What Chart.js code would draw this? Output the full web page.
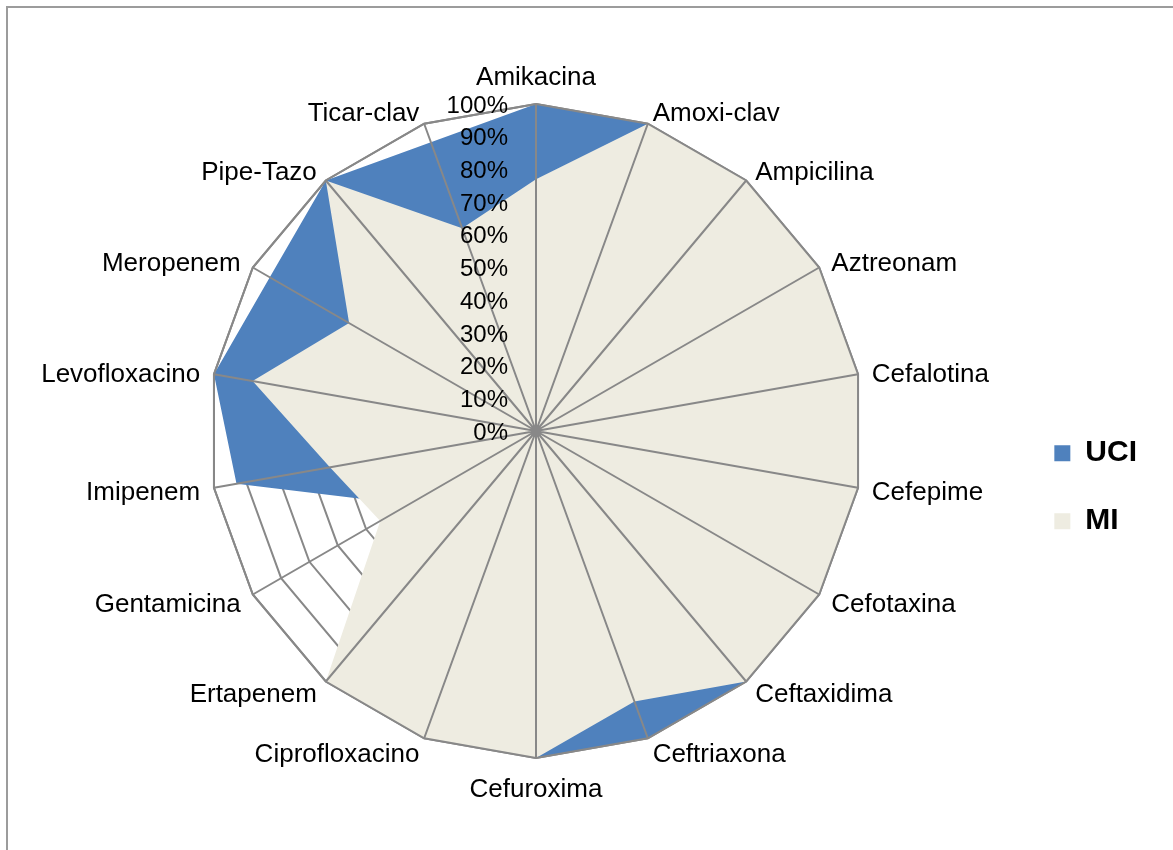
<!DOCTYPE html>
<html>
<head>
<meta charset="utf-8">
<script src="https://cdn.jsdelivr.net/npm/chart.js@4.4.0/dist/chart.umd.min.js"></script>
<style>
  html, body { margin: 0; padding: 0; background: #fff; overflow: hidden; }
  #frame { position: absolute; left: 6px; top: 6px; width: 1300px; height: 1000px; border: 2px solid #9c9c9c; }
  #chart { position: absolute; left: 8px; top: 7px; }
</style>
</head>
<body>
<div id="frame"></div>
<canvas id="chart" width="1160" height="843"></canvas>
<script>
// categories, clockwise from the top
const categories = ['Amikacina', 'Amoxi-clav', 'Ampicilina', 'Aztreonam', 'Cefalotina', 'Cefepime',
  'Cefotaxina', 'Ceftaxidima', 'Ceftriaxona', 'Cefuroxima', 'Ciprofloxacino', 'Ertapenem',
  'Gentamicina', 'Imipenem', 'Levofloxacino', 'Meropenem', 'Pipe-Tazo', 'Ticar-clav'];

// % values per series
const uciValues = [100, 100, 100, 100, 100, 100, 100, 100, 100, 100, 100, 85, 45, 93, 100, 94, 100, 94];
const miValues = [77, 100, 100, 100, 100, 100, 100, 100, 88, 100, 100, 100, 55, 64, 88, 66, 100, 66];

const tickValues = [0, 10, 20, 30, 40, 50, 60, 70, 80, 90, 100];
const tickLabels = ['0%', '10%', '20%', '30%', '40%', '50%', '60%', '70%', '80%', '90%', '100%'];

const fontFamily = '"Liberation Sans", Arial, sans-serif';
const gridColor = '#888888';

// spokes, outer ring, % labels and category labels go on top of the filled areas
const overlay = {
  id: 'overlay',
  afterDatasetsDraw: function(chart) {
    var scale = chart.scales.r;
    var c = chart.ctx;
    var n = chart.data.labels.length;
    c.save();
    c.strokeStyle = gridColor;
    c.lineWidth = 2;
    c.beginPath();
    for (var i = 0; i < n; i++) {
      var p = scale.getPointPositionForValue(i, scale.max);
      c.moveTo(scale.xCenter, scale.yCenter);
      c.lineTo(p.x, p.y);
    }
    c.stroke();
    c.beginPath();
    for (var j = 0; j < n; j++) {
      var q = scale.getPointPositionForValue(j, scale.max);
      if (j === 0) c.moveTo(q.x, q.y); else c.lineTo(q.x, q.y);
    }
    c.closePath();
    c.stroke();

    c.fillStyle = '#000';
    c.font = '24px ' + fontFamily;
    c.textAlign = 'right';
    c.textBaseline = 'middle';
    tickValues.forEach(function(v, k) {
      var y = scale.yCenter - scale.getDistanceFromCenterForValue(v);
      c.fillText(tickLabels[k], scale.xCenter - 28, y + 2);
    });

    // category labels, excel style: vertically centred on the anchor
    c.font = '26px ' + fontFamily;
    chart.data.labels.forEach(function(lbl, k) {
      var a = scale.getPointPosition(k, scale.drawingArea + 14);
      var dx = a.x - scale.xCenter;
      var y = a.y + 3;
      if (Math.abs(dx) < 1) {
        c.textAlign = 'center';
        y += (a.y < scale.yCenter) ? -15 : 15;
      } else {
        c.textAlign = dx > 0 ? 'left' : 'right';
      }
      c.fillText(lbl, a.x, y);
    });
    c.restore();
  }
};

new Chart(document.getElementById('chart'), {
  type: 'radar',
  data: {
    labels: categories,
    datasets: [{
      label: 'UCI',
      data: uciValues,
      backgroundColor: '#4F81BD',
      borderColor: '#4F81BD',
      borderWidth: 0,
      pointRadius: 0,
      fill: true,
      order: 2
    }, {
      label: 'MI',
      data: miValues,
      backgroundColor: '#EEECE1',
      borderColor: '#EEECE1',
      borderWidth: 0,
      pointRadius: 0,
      fill: true,
      order: 1
    }]
  },
  options: {
    responsive: false,
    animation: false,
    layout: { padding: { left: 49, top: 97, right: 21, bottom: 92 } },
    elements: { line: { tension: 0 } },
    plugins: {
      legend: {
        position: 'right',
        title: { display: true, text: '', padding: { top: 98, bottom: 0 } },
        labels: {
          boxWidth: 16,
          boxHeight: 16,
          padding: 38,
          color: '#000',
          font: { family: fontFamily, size: 30, weight: 'bold' },
          sort: function(a, b) { return a.datasetIndex - b.datasetIndex; }
        }
      },
      tooltip: { enabled: false }
    },
    scales: {
      r: {
        min: 0,
        max: 100,
        ticks: { display: false, stepSize: 10 },
        grid: { color: gridColor, lineWidth: 2 },
        angleLines: { display: false },
        pointLabels: { display: false }
      }
    }
  },
  plugins: [overlay]
});
</script>
</body>
</html>
